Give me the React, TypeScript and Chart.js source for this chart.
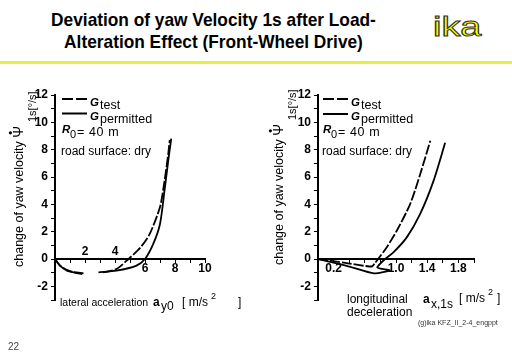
import React, { useEffect, useRef } from "react";
import { Chart, registerables } from "chart.js";

Chart.register(...registerables);

// ---------- data ----------
// left chart: lateral acceleration a_y0 [m/s²] vs change of yaw velocity [°/s]
const leftTestX = [0, 0.3, 0.7, 1.2, 1.9, NaN, 3.2, 4.1, 4.9, 5.7, 6.3, 7.0, 7.3, 7.55, 7.65];
const leftTestY = [0, -0.45, -0.75, -0.95, -1.05, NaN, -0.98, -0.73, 0, 0.85, 1.8, 3.8, 5.7, 7.7, 8.7];
const leftPermX = [0, 0.35, 0.8, 1.3, 1.8, NaN, 2.9, 4.1, 5.4, 6.0, 6.55, 7.0, 7.3, 7.55, 7.75];
const leftPermY = [0, -0.5, -0.85, -1.0, -1.1, NaN, -0.98, -0.85, -0.5, 0, 1.1, 2.56, 5.0, 7.2, 8.8];

// right chart: longitudinal deceleration a_x,1s [m/s²]
const rightTestX = [0, 0.35, 0.69, 0.73, 0.77, 0.88, 1.01, 1.18, 1.31, 1.44];
const rightTestY = [0, -0.28, -0.55, -0.3, 0, 0.85, 2.07, 4.0, 6.2, 8.66];
const rightPermX = [0, 0.4, 0.72, 0.92, 0.8, 0.76, 0.86, 0.97, 1.14, 1.31, 1.48, 1.63];
const rightPermY = [0, -0.55, -1.05, -0.82, -0.7, -0.6, 0, 0.5, 1.6, 3.3, 5.7, 8.5];

// tick labels
const leftXLabelsBelow = [6, 8, 10];
const leftXLabelsAbove = [2, 4];
const rightXLabelsBelow = [0.2, 1.0, 1.4, 1.8];
const rightXLabelsAbove: number[] = [];
const yRange = [-3, 12];
const yLabelValues = [-2, 0, 2, 4, 6, 8, 10, 12];

const FONT = '"Liberation Sans", Arial, Helvetica, sans-serif';

const toPts = (xs: number[], ys: number[]) =>
  xs.map((x, i) => ({ x, y: ys[i] }));

function makeXLabelPlugin(below: number[], above: number[], fmt: (v: number) => string) {
  return {
    id: "xlabels",
    afterDraw(chart: any) {
      const { ctx } = chart;
      const xs = chart.scales.x;
      const ys = chart.scales.y;
      const y0 = ys.getPixelForValue(0);
      ctx.save();
      ctx.font = `bold 12px ${FONT}`;
      ctx.fillStyle = "#000";
      ctx.textAlign = "center";
      ctx.textBaseline = "top";
      below.forEach((v) => ctx.fillText(fmt(v), xs.getPixelForValue(v), y0 + 4));
      ctx.textBaseline = "bottom";
      above.forEach((v) => ctx.fillText(fmt(v), xs.getPixelForValue(v), y0 - 1));
      ctx.restore();
    },
  };
}

type CP = {
  left: number;
  top: number;
  width: number;
  height: number;
  yWidth: number;
  padRight: number;
  padTop: number;
  padBottom: number;
  xMin: number;
  xMax: number;
  xStep: number;
  test: { x: number; y: number }[];
  perm: { x: number; y: number }[];
  below: number[];
  above: number[];
  fmt: (v: number) => string;
};

function YawChart(p: CP) {
  const ref = useRef<HTMLCanvasElement>(null);
  useEffect(() => {
    const chart = new Chart(ref.current as HTMLCanvasElement, {
      type: "scatter",
      data: {
        datasets: [
          {
            label: "G test",
            data: p.test,
            showLine: true,
            borderColor: "#000",
            borderWidth: 1.8,
            borderDash: [10, 2],
            pointRadius: 0,
            tension: 0.25,
            fill: false,
          },
          {
            label: "G permitted",
            data: p.perm,
            showLine: true,
            borderColor: "#000",
            borderWidth: 1.8,
            pointRadius: 0,
            tension: 0.25,
            fill: false,
          },
        ],
      },
      options: {
        animation: false,
        responsive: false,
        events: [],
        layout: { padding: { left: 0, right: p.padRight, top: p.padTop, bottom: p.padBottom } },
        plugins: { legend: { display: false }, tooltip: { enabled: false } },
        scales: {
          x: {
            type: "linear",
            min: p.xMin,
            max: p.xMax,
            position: { y: 0 } as any,
            grid: { drawOnChartArea: false, drawTicks: true, tickLength: 3, color: "#000", lineWidth: 1 },
            border: { display: true, color: "#000", width: 2 },
            ticks: { display: false, stepSize: p.xStep },
          },
          y: {
            type: "linear",
            min: yRange[0],
            max: yRange[1],
            grid: { drawOnChartArea: false, drawTicks: true, tickLength: 4, color: "#000", lineWidth: 1 },
            border: { display: true, color: "#000", width: 2 },
            ticks: {
              stepSize: 1,
              autoSkip: false,
              padding: 3,
              color: "#000",
              font: { family: FONT, size: 12, weight: "bold" },
              callback: (v: any) => (yLabelValues.includes(Number(v)) ? String(v) : ""),
            },
            afterFit: (s: any) => {
              s.width = p.yWidth;
            },
          },
        },
      },
      plugins: [makeXLabelPlugin(p.below, p.above, p.fmt) as any],
    });
    return () => chart.destroy();
  }, []);
  return (
    <canvas
      ref={ref}
      width={p.width}
      height={p.height}
      style={{ position: "absolute", left: p.left, top: p.top, width: p.width, height: p.height }}
    />
  );
}

// text helper: y is baseline
function Txt(props: {
  x: number;
  y: number;
  size: number;
  bold?: boolean;
  italic?: boolean;
  color?: string;
  ls?: number;
  children: React.ReactNode;
}) {
  const { x, y, size, bold, italic, color, ls, children } = props;
  return (
    <div
      style={{
        position: "absolute",
        left: x,
        top: y - 0.85 * size,
        fontFamily: FONT,
        fontSize: size,
        fontWeight: bold ? "bold" : "normal",
        fontStyle: italic ? "italic" : "normal",
        lineHeight: `${size}px`,
        letterSpacing: ls ? `${ls}px` : undefined,
        whiteSpace: "nowrap",
        color: color || "#000",
      }}
    >
      {children}
    </div>
  );
}

function YTitle({ x, y }: { x: number; y: number }) {
  return (
    <div
      style={{
        position: "absolute",
        left: x,
        top: y,
        transform: "rotate(-90deg)",
        transformOrigin: "0 0",
        whiteSpace: "nowrap",
        fontFamily: FONT,
        fontSize: 12.5,
        lineHeight: "14px",
        color: "#000",
      }}
    >
      change of yaw velocity{" "}
      <span style={{ position: "relative", fontSize: 14, marginRight: 4 }}>
        {"\u03A8"}
        <span
          style={{
            position: "absolute",
            left: 3,
            top: -7,
            fontSize: 11,
            fontWeight: "bold",
          }}
        >
          •
        </span>
      </span>
      <span style={{ position: "relative", top: 13, fontSize: 11 }}>1s[°/s]</span>
    </div>
  );
}

function Legend({ dx }: { dx: number }) {
  return (
    <>
      <Txt x={90 + dx} y={107} size={11.5} bold italic>G</Txt>
      <Txt x={100 + dx} y={110} size={12.5}>test</Txt>
      <Txt x={90 + dx} y={121} size={11.5} bold italic>G</Txt>
      <Txt x={100 + dx} y={123.5} size={12.5}>permitted</Txt>
      <Txt x={62 + dx} y={134} size={11.5} bold italic>R</Txt>
      <Txt x={70 + dx} y={138} size={11}>0</Txt>
      <Txt x={77 + dx} y={136.5} size={12.5} ls={0.6}>= 40 m</Txt>
      <Txt x={61 + dx} y={155} size={12}>road surface: dry</Txt>
    </>
  );
}

export default function App() {
  return (
    <div
      style={{
        position: "absolute",
        left: 0,
        top: 0,
        width: 512,
        height: 354,
        background: "#fff",
        overflow: "hidden",
      }}
    >
      {/* title */}
      <div
        style={{
          position: "absolute",
          left: 0,
          top: 9,
          width: 427,
          textAlign: "center",
          fontFamily: FONT,
          fontWeight: "bold",
          fontSize: 19,
          lineHeight: "22px",
          color: "#000",
          transform: "scaleX(0.91)",
          transformOrigin: "213.5px 0",
        }}
      >
        Deviation of yaw Velocity 1s after Load-
        <br />
        Alteration Effect (Front-Wheel Drive)
      </div>
      {/* logo */}
      <div
        style={{
          position: "absolute",
          left: 433,
          top: 14,
          fontFamily: FONT,
          fontSize: 27,
          lineHeight: "27px",
          color: "#ffff00",
          WebkitTextStroke: "1px #333",
          transform: "scaleX(1.4)",
          transformOrigin: "0 0",
        }}
      >
        ika
      </div>
      <div style={{ position: "absolute", left: 0, top: 61, width: 512, height: 3, background: "#e8ee3c" }} />

      <YawChart
        left={0}
        top={70}
        width={256}
        height={250}
        yWidth={55}
        padRight={51}
        padTop={25}
        padBottom={20}
        xMin={0}
        xMax={10}
        xStep={1}
        test={toPts(leftTestX, leftTestY)}
        perm={toPts(leftPermX, leftPermY)}
        below={leftXLabelsBelow}
        above={leftXLabelsAbove}
        fmt={(v) => String(v)}
      />
      <YawChart
        left={256}
        top={70}
        width={256}
        height={250}
        yWidth={62}
        padRight={38}
        padTop={25}
        padBottom={20}
        xMin={0}
        xMax={2}
        xStep={0.2}
        test={toPts(rightTestX, rightTestY)}
        perm={toPts(rightPermX, rightPermY)}
        below={rightXLabelsBelow}
        above={rightXLabelsAbove}
        fmt={(v) => v.toFixed(1)}
      />

      {/* legend samples */}
      <svg style={{ position: "absolute", left: 0, top: 0 }} width={512} height={354}>
        <line x1={62} y1={99} x2={87} y2={99} stroke="#000" strokeWidth={2} strokeDasharray="11 3" />
        <line x1={62} y1={113.5} x2={87} y2={113.5} stroke="#000" strokeWidth={2} />
        <line x1={323} y1={99} x2={348} y2={99} stroke="#000" strokeWidth={2} strokeDasharray="11 3" />
        <line x1={323} y1={114} x2={348} y2={114} stroke="#000" strokeWidth={2} />
      </svg>
      <Legend dx={0} />
      <Legend dx={261} />

      <YTitle x={11} y={267} />
      <YTitle x={271} y={265} />

      {/* x titles */}
      <Txt x={60} y={306} size={10.5}>lateral acceleration</Txt>
      <Txt x={153} y={306} size={12} bold>a</Txt>
      <Txt x={161} y={310} size={12}>y0</Txt>
      <Txt x={182} y={306} size={12}>[ m/s</Txt>
      <Txt x={211} y={300} size={9}>2</Txt>
      <Txt x={238} y={306} size={12}>]</Txt>

      <Txt x={347} y={303} size={12}>longitudinal</Txt>
      <Txt x={347} y={316} size={12}>deceleration</Txt>
      <Txt x={423} y={303} size={12} bold>a</Txt>
      <Txt x={431} y={308} size={12}>x,1s</Txt>
      <Txt x={459} y={302} size={12}>[ m/s</Txt>
      <Txt x={488} y={296} size={9}>2</Txt>
      <Txt x={497} y={302} size={12}>]</Txt>

      <Txt x={418} y={325} size={7} color="#333">(g)ika KFZ_II_2-4_engppt</Txt>
      <Txt x={8} y={350} size={10} color="#444">22</Txt>
    </div>
  );
}
